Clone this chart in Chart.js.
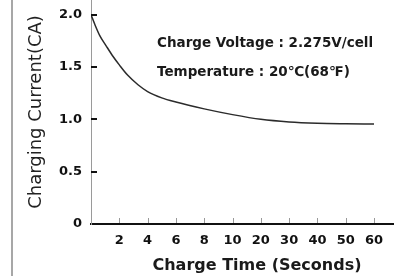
<!DOCTYPE html>
<html>
<head>
<meta charset="utf-8">
<script src="https://cdn.jsdelivr.net/npm/chart.js@4.4.1/dist/chart.umd.min.js"></script>
<style>
  html, body { margin: 0; padding: 0; background: #fff; }
  #wrap { width: 405px; height: 276px; }
</style>
</head>
<body>
<div id="wrap"><canvas id="myChart" width="405" height="276"></canvas></div>
<script>
// x positions are slots on the time axis (0 = origin, 1 = "2" ... 10 = "60")
const timeTickLabels = ['0', '2', '4', '6', '8', '10', '20', '30', '40', '50', '60'];
const timePos = [0, 0.13, 0.31, 0.54, 0.78, 1, 1.3, 1.66, 2, 2.5, 3, 4, 5, 6, 7, 8, 9, 10];
const current = [2.00, 1.91, 1.80, 1.70, 1.60, 1.52, 1.42, 1.33, 1.265, 1.205, 1.165, 1.10, 1.045, 1.00, 0.975, 0.963, 0.958, 0.955];
const currentTickLabels = { 0: '0', 0.5: '0.5', 1: '1.0', 1.5: '1.5', 2: '2.0' };
const notes = ['Charge Voltage : 2.275V/cell', 'Temperature : 20\u2103(68\u2109)'];
const xTitle = 'Charge Time (Seconds)';

const boldFont = '"DejaVu Sans", sans-serif';

const extras = {
  id: 'extras',
  beforeDraw(chart) {
    const ctx = chart.ctx;
    ctx.save();
    ctx.strokeStyle = '#8a8a8a';
    ctx.lineWidth = 1.5;
    ctx.beginPath();
    ctx.moveTo(12, 0);
    ctx.lineTo(12, chart.height);
    ctx.stroke();
    ctx.restore();
  },
  afterDraw(chart) {
    const ctx = chart.ctx;
    const x = chart.scales.x, y = chart.scales.y;
    const area = chart.chartArea;
    ctx.save();
    // inward ticks on the y axis
    ctx.strokeStyle = '#111';
    ctx.lineWidth = 2;
    [0.5, 1, 1.5, 2].forEach(v => {
      const py = Math.round(y.getPixelForValue(v));
      ctx.beginPath();
      ctx.moveTo(area.left, py);
      ctx.lineTo(area.left + 6, py);
      ctx.stroke();
    });
    // small gray ticks above the x axis
    ctx.strokeStyle = '#999';
    ctx.lineWidth = 1;
    for (let i = 1; i < timeTickLabels.length; i++) {
      const px = Math.round(x.getPixelForValue(i)) + 0.5;
      ctx.beginPath();
      ctx.moveTo(px, area.bottom - 6);
      ctx.lineTo(px, area.bottom - 1);
      ctx.stroke();
    }
    // notes
    ctx.fillStyle = '#1a1a1a';
    ctx.font = 'bold 13.5px ' + boldFont;
    ctx.textBaseline = 'middle';
    ctx.textAlign = 'left';
    ctx.fillText(notes[0], 157, 43);
    ctx.fillText(notes[1], 157, 72);
    // x title
    ctx.font = 'bold 16px ' + boldFont;
    ctx.textAlign = 'center';
    ctx.fillText(xTitle, 257, 266);
    ctx.restore();
  }
};

const data = {
  datasets: [{
    data: timePos.map((t, i) => ({ x: t, y: current[i] })),
    borderColor: '#2b2b2b',
    borderWidth: 1.5,
    pointRadius: 0,
    fill: false,
    cubicInterpolationMode: 'monotone'
  }]
};

const config = {
  type: 'line',
  data: data,
  plugins: [extras],
  options: {
    responsive: false,
    animation: false,
    layout: { padding: { left: 0, right: 12, top: 0, bottom: 0 } },
    plugins: { legend: { display: false }, tooltip: { enabled: false } },
    scales: {
      x: {
        type: 'linear',
        min: 0,
        max: 10.67,
        afterFit(scale) { scale.height = 52; scale.paddingLeft = 0; scale.paddingRight = 0; },
        border: { color: '#111', width: 2 },
        grid: { display: true, drawOnChartArea: false, drawTicks: false },
        ticks: {
          stepSize: 1,
          includeBounds: false,
          autoSkip: false,
          maxRotation: 0,
          padding: 9,
          color: '#111',
          font: { family: boldFont, size: 13, weight: 'bold' },
          callback: v => (v > 0 && Number.isInteger(v)) ? timeTickLabels[v] : ''
        }
      },
      y: {
        min: 0,
        max: 2.14,
        afterFit(scale) { scale.width = 91; scale.paddingTop = 0; scale.paddingBottom = 0; },
        border: { color: '#9a9a9a', width: 1 },
        grid: { display: true, drawOnChartArea: false, drawTicks: false },
        title: {
          display: true,
          text: 'Charging Current(CA)',
          color: '#222',
          font: { family: '"DejaVu Sans", sans-serif', size: 18 },
          padding: { top: 26, bottom: 0 }
        },
        ticks: {
          stepSize: 0.5,
          includeBounds: false,
          padding: 9,
          color: '#111',
          font: { family: boldFont, size: 13, weight: 'bold' },
          callback: v => currentTickLabels[v] !== undefined ? currentTickLabels[v] : ''
        }
      }
    }
  }
};

const ctx = document.getElementById('myChart');
const myChart = new Chart(ctx, config);
</script>
</body>
</html>
